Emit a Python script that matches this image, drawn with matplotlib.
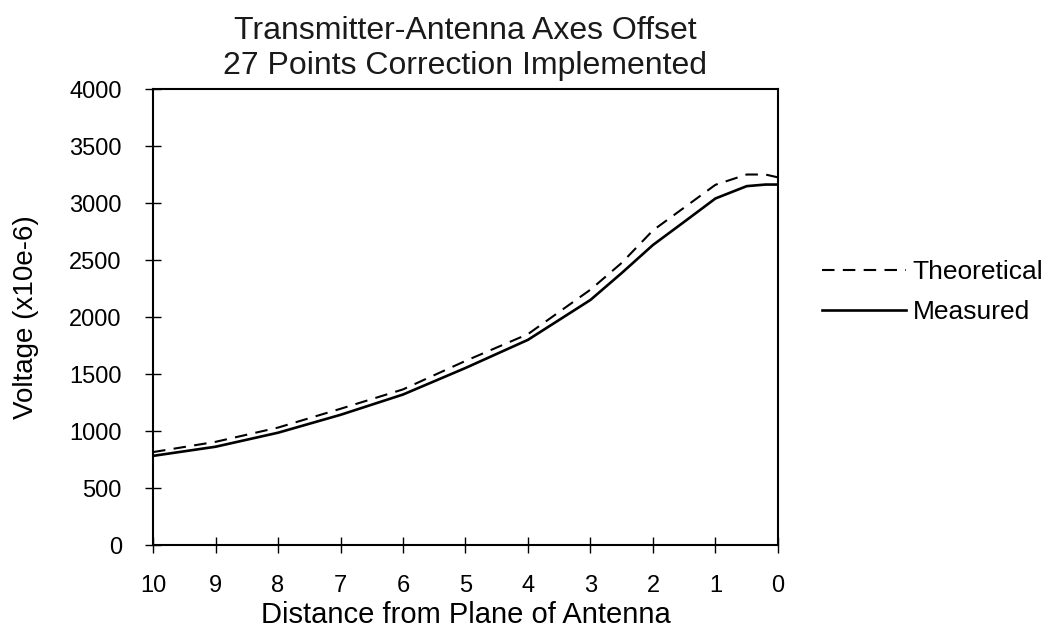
import numpy as np
import matplotlib
matplotlib.use("Agg")
import matplotlib.pyplot as plt

plt.rcParams['font.family'] = ['Liberation Sans', 'DejaVu Sans']

# distance from plane of antenna
distance = [10, 9, 8, 7, 6, 5, 4, 3, 2.5, 2, 1.5, 1, 0.5, 0.2, 0]
theoretical = [815, 905, 1030, 1195, 1365, 1615, 1850, 2240, 2475, 2760, 2960, 3160, 3250, 3250, 3225]
measured = [782, 862, 985, 1142, 1320, 1553, 1800, 2150, 2386, 2632, 2835, 3040, 3148, 3162, 3162]

xticks = [10, 9, 8, 7, 6, 5, 4, 3, 2, 1, 0]
yticks = [0, 500, 1000, 1500, 2000, 2500, 3000, 3500, 4000]

fig = plt.figure(figsize=(10.51, 6.30), dpi=100)
ax = fig.add_axes([0.1456, 0.1349, 0.5946, 0.7238])

ax.plot(distance, theoretical, color='black', lw=1.5, dashes=(6, 4), label='Theoretical')
ax.plot(distance, measured, color='black', lw=1.9, label='Measured')

ax.set_xlim(10, 0)
ax.set_ylim(0, 4000)
ax.set_xticks(xticks)
ax.set_yticks(yticks)
ax.tick_params(direction='inout', length=11, width=1, labelsize=17)
ax.tick_params(axis='x', pad=16)
ax.tick_params(axis='y', pad=17)

for s in ax.spines.values():
    s.set_linewidth(1.5)

ax.set_title("Transmitter-Antenna Axes Offset\n27 Points Correction Implemented",
             fontsize=23, linespacing=1.2, pad=11, color='#1a1a1a')
ax.set_xlabel("Distance from Plane of Antenna", fontsize=21, labelpad=3)
ax.set_ylabel("Voltage (x10e-6)", fontsize=20, labelpad=22)

ax.legend(loc='center left', bbox_to_anchor=(1.07, 0.555), frameon=False,
          fontsize=19, handlelength=3.2, handletextpad=0.25, labelspacing=0.6,
          borderpad=0, borderaxespad=0)

fig.savefig("out.png", dpi=100)
